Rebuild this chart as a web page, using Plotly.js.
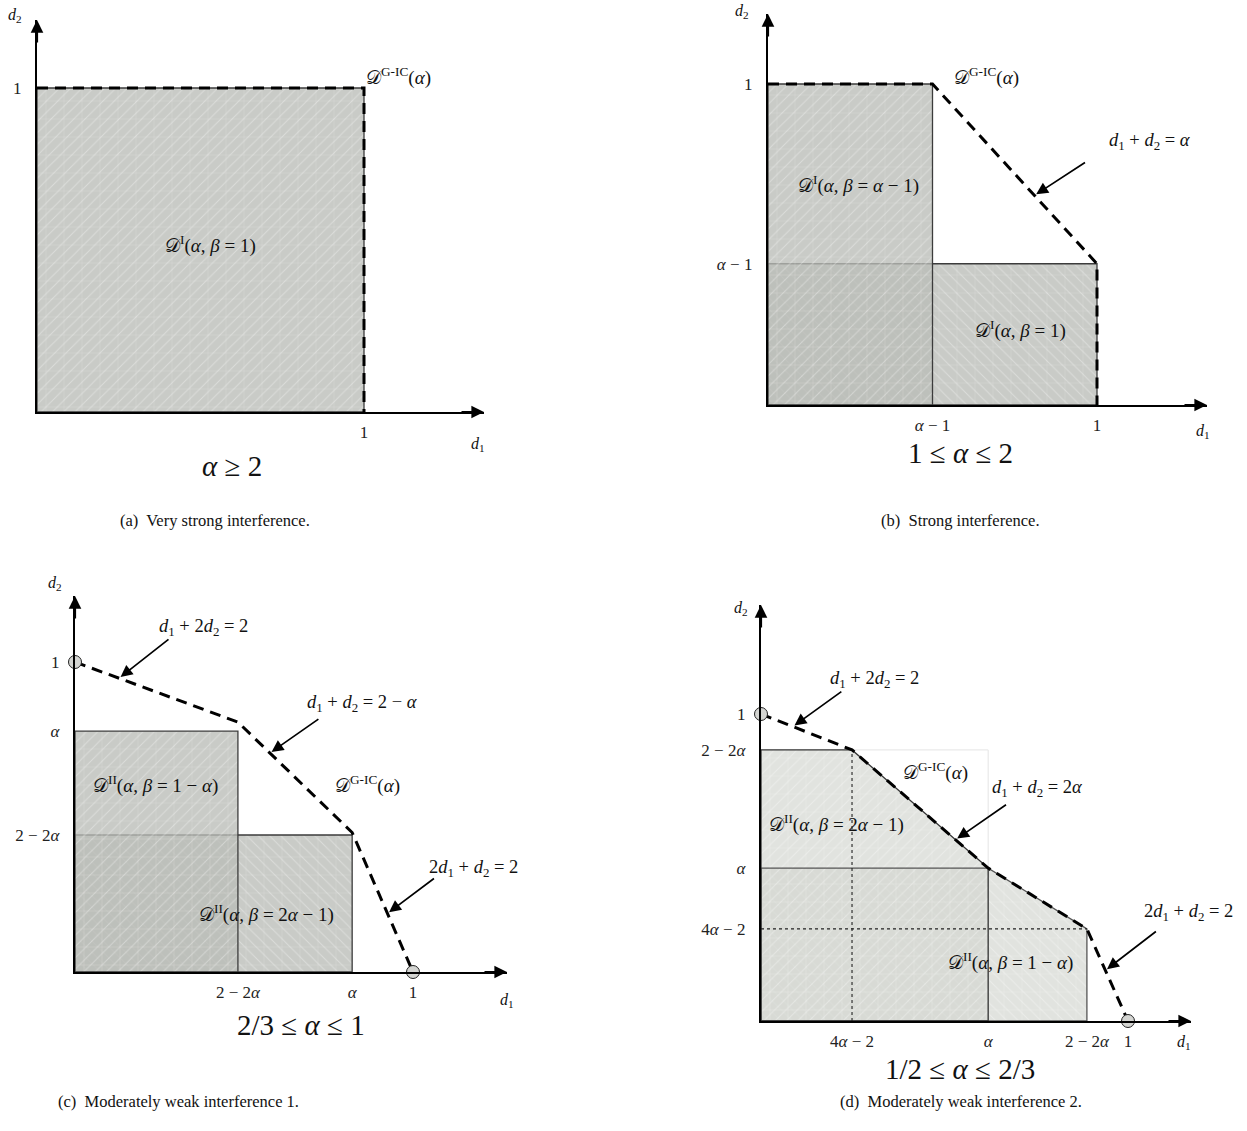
<!DOCTYPE html>
<html><head><meta charset="utf-8">
<script src="https://cdn.plot.ly/plotly-3.0.1.min.js"></script>
<style>html,body{margin:0;padding:0;background:#fff}</style>
</head><body><div id="chart" style="width:1247px;height:1131px"></div>
<script>
const W = 1247, H = 1131;

// ---------- DATA ----------
// (a) very strong interference, alpha >= 2
const a_regX = [0, 1, 1, 0, 0];
const a_regY = [0, 0, 1, 1, 0];
const a_bndX = [0, 1, 1];
const a_bndY = [1, 1, 0];
const a_xTicks = [1], a_xText = ['1'];
const a_yTicks = [1], a_yText = ['1'];

// (b) strong interference, 1 <= alpha <= 2
const b_reg1X = [0, 0.5, 0.5, 0, 0];      // D^I(alpha, beta = alpha-1)
const b_reg1Y = [0, 0, 1, 1, 0];
const b_reg2X = [0, 1, 1, 0, 0];          // D^I(alpha, beta = 1)
const b_reg2Y = [0, 0, 0.44, 0.44, 0];
const b_bndX = [0, 0.5, 1, 1];
const b_bndY = [1, 1, 0.44, 0];
const b_xTicks = [0.5, 1], b_xText = ['<i>α</i> − 1', '1'];
const b_yTicks = [0.44, 1], b_yText = ['<i>α</i> − 1', '1'];

// (c) moderately weak 1, 2/3 <= alpha <= 1
const c_reg1X = [0, 0.482, 0.482, 0, 0];  // D^II(alpha, beta = 1-alpha)
const c_reg1Y = [0, 0, 0.777, 0.777, 0];
const c_reg2X = [0, 0.82, 0.82, 0, 0];    // D^II(alpha, beta = 2alpha-1)
const c_reg2Y = [0, 0, 0.442, 0.442, 0];
const c_bndX = [0, 0.482, 0.82, 1];
const c_bndY = [1, 0.806, 0.45, 0];
const c_ptX = [0, 1], c_ptY = [1, 0];
const c_xTicks = [0.482, 0.82, 1], c_xText = ['2 − 2<i>α</i>', '<i>α</i>', '1'];
const c_yTicks = [0.442, 0.777, 1], c_yText = ['2 − 2<i>α</i>', '<i>α</i>', '1'];

// (d) moderately weak 2, 1/2 <= alpha <= 2/3
const d_reg1X = [0, 0, 0.248, 0.619, 0.619, 0];   // D^II(alpha, beta = 2alpha-1)
const d_reg1Y = [0, 0.883, 0.883, 0.498, 0, 0];
const d_reg2X = [0, 0, 0.619, 0.888, 0.888, 0];   // D^II(alpha, beta = 1-alpha)
const d_reg2Y = [0, 0.498, 0.498, 0.30, 0, 0];
const d_bndX = [0, 0.248, 0.619, 0.888, 1];
const d_bndY = [1, 0.883, 0.498, 0.30, 0];
const d_ptX = [0, 1], d_ptY = [1, 0];
const d_xTicks = [0.248, 0.619, 0.888, 1], d_xText = ['4<i>α</i> − 2', '<i>α</i>', '2 − 2<i>α</i>', '1'];
const d_yTicks = [0.30, 0.498, 0.883, 1], d_yText = ['4<i>α</i> − 2', '<i>α</i>', '2 − 2<i>α</i>', '1'];

// ---------- STYLE HELPERS ----------
const SERIF = 'Liberation Serif, DejaVu Serif, serif';
const D = '𝒟';
const DARK = { bg: 'rgba(186,188,183,0.78)' };
const LIGHT = { bg: 'rgba(212,214,209,0.69)' };

function regionTraces(xs, ys, ax, ay, tone, hatch) {
  return [
    { type: 'scatter', mode: 'none', x: xs, y: ys, xaxis: ax, yaxis: ay, fill: 'toself',
      fillcolor: tone.bg, hoverinfo: 'skip',
      fillpattern: { shape: '+', bgcolor: tone.bg, fgcolor: '#ffffff', fgopacity: 0.22, size: 18, solidity: 0.06 } },
    { type: 'scatter', mode: 'none', x: xs, y: ys, xaxis: ax, yaxis: ay, fill: 'toself',
      fillcolor: 'rgba(0,0,0,0)', hoverinfo: 'skip',
      fillpattern: { shape: hatch, bgcolor: 'rgba(0,0,0,0)', fgcolor: '#ffffff', fgopacity: 0.34, size: 8, solidity: 0.12 } }
  ];
}
function outline(xs, ys, ax, ay, color, width, dash) {
  return { type: 'scatter', mode: 'lines', x: xs, y: ys, xaxis: ax, yaxis: ay, hoverinfo: 'skip',
    line: { color: color || '#3c3c3c', width: width || 1.3, dash: dash || 'solid' } };
}
function boundary(xs, ys, ax, ay) {
  return { type: 'scatter', mode: 'lines', x: xs, y: ys, xaxis: ax, yaxis: ay, hoverinfo: 'skip',
    line: { color: '#000', width: 3, dash: '11px,7px' } };
}
function points(xs, ys, ax, ay) {
  return { type: 'scatter', mode: 'markers', x: xs, y: ys, xaxis: ax, yaxis: ay, hoverinfo: 'skip', cliponaxis: false,
    marker: { size: 13, color: '#d4d5d2', line: { color: '#222', width: 1 } } };
}

const traces = [];
// (a)
traces.push(...regionTraces(a_regX, a_regY, 'x', 'y', DARK, '/'));
traces.push(outline(a_regX, a_regY, 'x', 'y'));
traces.push(boundary(a_bndX, a_bndY, 'x', 'y'));
// (b)
traces.push(...regionTraces(b_reg2X, b_reg2Y, 'x2', 'y2', DARK, '\\'));
traces.push(outline(b_reg2X, b_reg2Y, 'x2', 'y2'));
traces.push(...regionTraces(b_reg1X, b_reg1Y, 'x2', 'y2', DARK, '/'));
traces.push(outline(b_reg1X, b_reg1Y, 'x2', 'y2'));
traces.push(boundary(b_bndX, b_bndY, 'x2', 'y2'));
// (c)
traces.push(...regionTraces(c_reg2X, c_reg2Y, 'x3', 'y3', DARK, '\\'));
traces.push(outline(c_reg2X, c_reg2Y, 'x3', 'y3'));
traces.push(...regionTraces(c_reg1X, c_reg1Y, 'x3', 'y3', DARK, '/'));
traces.push(outline(c_reg1X, c_reg1Y, 'x3', 'y3'));
traces.push(boundary(c_bndX, c_bndY, 'x3', 'y3'));
traces.push(points(c_ptX, c_ptY, 'x3', 'y3'));
// (d)
traces.push(...regionTraces(d_reg2X, d_reg2Y, 'x4', 'y4', LIGHT, '\\'));
traces.push(...regionTraces(d_reg1X, d_reg1Y, 'x4', 'y4', LIGHT, '/'));
traces.push(outline([d_reg1X[2], d_reg1X[3], d_reg1X[3]], [d_reg1Y[2], d_reg1Y[2], d_reg1Y[3]], 'x4', 'y4', '#e4e4e4', 1));
traces.push(outline(d_reg2X, d_reg2Y, 'x4', 'y4', '#555', 1.3));
traces.push(outline(d_reg1X, d_reg1Y, 'x4', 'y4', '#333', 1.3));
traces.push(outline([d_reg1X[2], d_reg1X[2]], [0, d_reg1Y[2]], 'x4', 'y4', '#222', 1.1, 'dot'));
traces.push(outline([0, d_reg2X[3]], [d_reg2Y[3], d_reg2Y[3]], 'x4', 'y4', '#222', 1.1, 'dot'));
traces.push(boundary(d_bndX, d_bndY, 'x4', 'y4'));
traces.push(points(d_ptX, d_ptY, 'x4', 'y4'));

// ---------- AXES ----------
function axesFor(ox, oy, ux, uy, xTip, yTip, xt, xtt, yt, ytt, anchorX, anchorY) {
  const common = { showgrid: false, zeroline: false, showline: true, linecolor: '#000', linewidth: 2.2,
    ticks: '', fixedrange: true, tickfont: { family: SERIF, size: 17, color: '#222' } };
  return {
    x: Object.assign({}, common, { domain: [ox / W, xTip / W], range: [0, (xTip - ox) / ux],
      tickvals: xt, ticktext: xtt, anchor: anchorY, ticklabelstandoff: 3 }),
    y: Object.assign({}, common, { domain: [1 - oy / H, 1 - yTip / H], range: [0, (oy - yTip) / uy],
      tickvals: yt, ticktext: ytt, anchor: anchorX, ticklabelstandoff: 10 })
  };
}
const A = axesFor(37, 412, 327, 324, 484, 20, a_xTicks, a_xText, a_yTicks, a_yText, 'x', 'y');
const B = axesFor(768, 405, 329, 321, 1207, 14, b_xTicks, b_xText, b_yTicks, b_yText, 'x2', 'y2');
const C = axesFor(75, 972, 338, 310, 507, 596, c_xTicks, c_xText, c_yTicks, c_yText, 'x3', 'y3');
const Dd = axesFor(761, 1021, 367, 307, 1191, 605, d_xTicks, d_xText, d_yTicks, d_yText, 'x4', 'y4');

// ---------- ANNOTATIONS ----------
const ann = [];
function T(px, py, text, size) {
  ann.push({ xref: 'paper', yref: 'paper', x: px / W, y: 1 - py / H, text: text, showarrow: false,
    xanchor: 'center', yanchor: 'middle', font: { family: SERIF, size: size || 18, color: '#111' } });
}
function axisArrows(ax, ay, axis) {
  const xr = axis.x.range[1], yr = axis.y.range[1];
  ann.push({ xref: ax, yref: ay, x: xr, y: 0, ax: -24, ay: 0, text: '', showarrow: true,
    arrowhead: 2, arrowsize: 1.15, arrowwidth: 2.2, arrowcolor: '#000', standoff: 0 });
  ann.push({ xref: ax, yref: ay, x: 0, y: yr, ax: 0, ay: 24, text: '', showarrow: true,
    arrowhead: 2, arrowsize: 1.15, arrowwidth: 2.2, arrowcolor: '#000', standoff: 0 });
}
function pointer(ax, ay, xs, ys, i, t, dx, dy) {
  const x = xs[i] + t * (xs[i + 1] - xs[i]);
  const y = ys[i] + t * (ys[i + 1] - ys[i]);
  ann.push({ xref: ax, yref: ay, x: x, y: y, ax: dx, ay: dy, text: '', showarrow: true,
    arrowhead: 2, arrowsize: 1.4, arrowwidth: 1.7, arrowcolor: '#000', standoff: 2 });
}
axisArrows('x', 'y', A); axisArrows('x2', 'y2', B); axisArrows('x3', 'y3', C); axisArrows('x4', 'y4', Dd);

const d1 = '<i>d</i><sub>1</sub>', d2 = '<i>d</i><sub>2</sub>', al = '<i>α</i>', be = '<i>β</i>';
const GIC = D + '<sup>G-IC</sup>(' + al + ')';
const LAB = 19, EQ = 18.5, AX = 16, BIG = 29, CAP = 16.5;

// (a)
T(15, 15, d2, AX); T(398, 76, GIC, LAB);
T(210, 244, D + '<sup>I</sup>(' + al + ', ' + be + ' = 1)', LAB);
T(478, 444, d1, AX); T(232, 466, al + ' ≥ 2', BIG);
T(215, 520, '(a)  Very strong interference.', CAP);
// (b)
T(742, 12, d2, AX); T(986, 76, GIC, LAB);
T(1150, 141, d1 + ' + ' + d2 + ' = ' + al, EQ);
pointer('x2', 'y2', b_bndX, b_bndY, 1, 0.62, 52, -34);
T(858, 185, D + '<sup>I</sup>(' + al + ', ' + be + ' = ' + al + ' − 1)', LAB);
T(1020, 330, D + '<sup>I</sup>(' + al + ', ' + be + ' = 1)', LAB);
T(1203, 431, d1, AX); T(960, 453, '1 ≤ ' + al + ' ≤ 2', BIG);
T(960, 520, '(b)  Strong interference.', CAP);
// (c)
T(55, 583, d2, AX);
T(203, 627, d1 + ' + 2' + d2 + ' = 2', EQ);
pointer('x3', 'y3', c_bndX, c_bndY, 0, 0.27, 51, -40);
T(362, 703, d1 + ' + ' + d2 + ' = 2 − ' + al, EQ);
pointer('x3', 'y3', c_bndX, c_bndY, 1, 0.28, 50, -35);
T(155, 784, D + '<sup>II</sup>(' + al + ', ' + be + ' = 1 − ' + al + ')', LAB);
T(367, 784, GIC, LAB);
T(473, 868, '2' + d1 + ' + ' + d2 + ' = 2', EQ);
pointer('x3', 'y3', c_bndX, c_bndY, 2, 0.58, 48, -36);
T(266, 913, D + '<sup>II</sup>(' + al + ', ' + be + ' = 2' + al + ' − 1)', LAB);
T(507, 1000, d1, AX); T(301, 1025, '2/3 ≤ ' + al + ' ≤ 1', BIG);
T(178, 1101, '(c)  Moderately weak interference 1.', CAP);
// (d)
T(741, 608, d2, AX);
T(874, 679, d1 + ' + 2' + d2 + ' = 2', EQ);
pointer('x4', 'y4', d_bndX, d_bndY, 0, 0.35, 50, -36);
T(935, 771, GIC, LAB);
T(1037, 788, d1 + ' + ' + d2 + ' = 2' + al, EQ);
pointer('x4', 'y4', d_bndX, d_bndY, 1, 0.76, 52, -36);
T(836, 823, D + '<sup>II</sup>(' + al + ', ' + be + ' = 2' + al + ' − 1)', LAB);
T(1188, 912, '2' + d1 + ' + ' + d2 + ' = 2', EQ);
pointer('x4', 'y4', d_bndX, d_bndY, 3, 0.45, 52, -40);
T(1010, 961, D + '<sup>II</sup>(' + al + ', ' + be + ' = 1 − ' + al + ')', LAB);
T(1184, 1042, d1, AX); T(960, 1069, '1/2 ≤ ' + al + ' ≤ 2/3', BIG);
T(961, 1101, '(d)  Moderately weak interference 2.', CAP);

const layout = {
  width: W, height: H, margin: { l: 0, r: 0, t: 0, b: 0 },
  paper_bgcolor: '#fff', plot_bgcolor: 'rgba(0,0,0,0)', showlegend: false,
  xaxis: A.x, yaxis: A.y, xaxis2: B.x, yaxis2: B.y, xaxis3: C.x, yaxis3: C.y, xaxis4: Dd.x, yaxis4: Dd.y,
  annotations: ann
};
Plotly.newPlot('chart', traces, layout, { staticPlot: true, displayModeBar: false });
</script></body></html>
